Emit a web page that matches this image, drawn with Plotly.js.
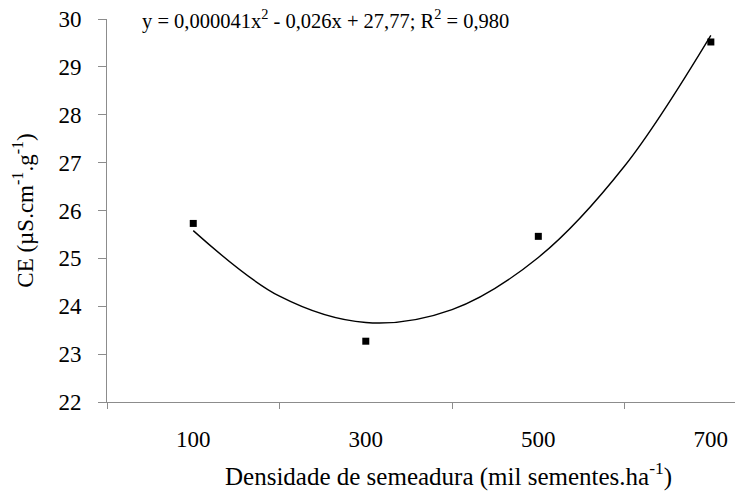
<!DOCTYPE html>
<html>
<head>
<meta charset="utf-8">
<script src="https://cdn.plot.ly/plotly-3.0.1.min.js"></script>
<style>html,body{margin:0;padding:0;background:#fff;}#chart{width:735px;height:495px;}</style>
</head>
<body>
<div id="chart"></div>
<script>
// Observed data
const densidade = [100, 300, 500, 700];
const ce = [25.73, 23.27, 25.46, 29.52];
// Fitted curve
const curveX = [100, 200, 300, 400, 500, 600, 700];
const curveY = [25.58, 24.21, 23.66, 23.93, 25.02, 26.93, 29.66];
// Axis ticks
const xTickLabels = ["100", "300", "500", "700"];
const xTickMarks = [0, 200, 400, 600];
const yTicks = [22, 23, 24, 25, 26, 27, 28, 29, 30];
const equation = "y = 0,000041x<sup>2</sup> - 0,026x + 27,77; R<sup>2</sup> = 0,980";
const xTitle = "Densidade de semeadura (mil sementes.ha<sup>-1</sup>)";
const yTitle = "CE (µS.cm<sup>-1</sup>.g<sup>-1</sup>)";

const font = "Liberation Serif, Times New Roman, serif";
const axisGray = "#8c8c8c";

const traces = [
  {x: curveX, y: curveY, mode: "lines", line: {color: "#000", width: 1.4, shape: "spline"}, hoverinfo: "skip"},
  {x: densidade, y: ce, mode: "markers", marker: {symbol: "square", size: 7, color: "#000"}}
];

const layout = {
  width: 735, height: 495,
  margin: {l: 107, r: 0, t: 19, b: 93},
  paper_bgcolor: "#fff", plot_bgcolor: "#fff",
  showlegend: false,
  font: {family: font, color: "#000", size: 19},
  xaxis: {
    range: [0, 728], showgrid: false, zeroline: false,
    showline: true, linecolor: axisGray, linewidth: 1,
    tickmode: "array", tickvals: densidade, ticktext: xTickLabels,
    ticks: "", ticklabelstandoff: 16,
    tickfont: {family: font, size: 23},
    minor: {tickmode: "array", tickvals: xTickMarks, ticks: "outside", ticklen: 6, tickcolor: axisGray, showgrid: false}
  },
  yaxis: {
    range: [22, 30], showgrid: false, zeroline: false,
    showline: true, linecolor: axisGray, linewidth: 1,
    tickmode: "array", tickvals: yTicks,
    ticks: "outside", ticklen: 8, tickcolor: axisGray,
    ticklabelstandoff: 12,
    tickfont: {family: font, size: 23},
    title: {text: yTitle, font: {family: font, size: 23}, standoff: 18}
  },
  annotations: [{
    xref: "paper", yref: "paper", x: 0.0525, y: 1, xanchor: "left", yanchor: "middle",
    text: equation, showarrow: false, font: {family: font, size: 20.5, color: "#000"}
  }, {
    xref: "paper", yref: "paper", x: (448 - 107) / 628, y: -(474 - 402) / 383,
    xanchor: "center", yanchor: "middle",
    text: xTitle, showarrow: false, font: {family: font, size: 25, color: "#000"}
  }]
};

Plotly.newPlot("chart", traces, layout, {displayModeBar: false, staticPlot: true});
</script>
</body>
</html>
